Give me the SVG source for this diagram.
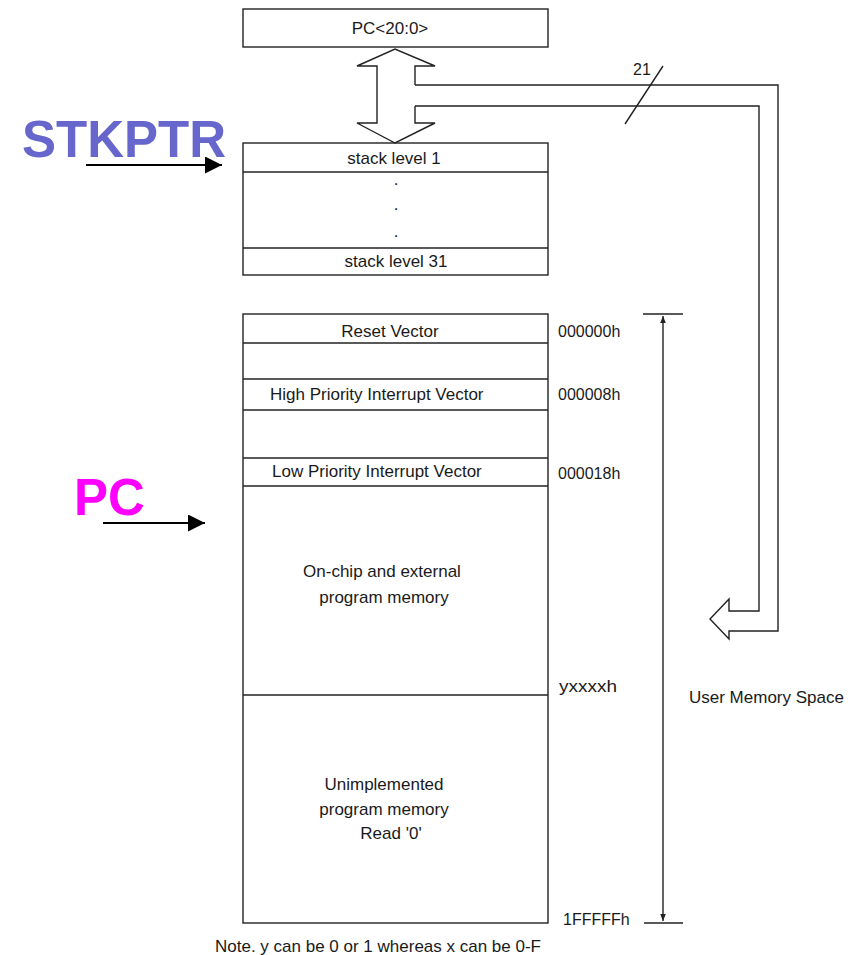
<svg xmlns="http://www.w3.org/2000/svg" width="850" height="955" viewBox="0 0 850 955">
<defs>
<style>
.box{fill:#fff;stroke:#222;stroke-width:1.4}
.ln{fill:none;stroke:#222;stroke-width:1.4}
.t{font-family:"Liberation Sans",Arial,sans-serif;font-size:17px;fill:#1a1a1a}
.a{font-size:16px}
.c{text-anchor:middle}
.big{font-family:"Liberation Sans",Arial,sans-serif;font-weight:bold;font-size:51px}
</style>
<marker id="ah" viewBox="0 0 10 10" refX="10" refY="5" markerWidth="17" markerHeight="17" markerUnits="userSpaceOnUse" orient="auto">
<path d="M0,0 L10,5 L0,10 Z" fill="#000"/>
</marker>
<marker id="sa" viewBox="0 0 10 10" refX="10" refY="5" markerWidth="7" markerHeight="7" markerUnits="userSpaceOnUse" orient="auto">
<path d="M0,1 L10,5 L0,9 Z" fill="#222"/>
</marker>
</defs>
<rect width="850" height="955" fill="#fff"/>

<g id="pc-reg">
<rect class="box" x="243" y="9" width="305" height="38"/>
<text class="t c" x="390" y="34">PC&lt;20:0&gt;</text>
</g>

<g id="stack">
<rect class="box" x="243" y="143" width="305" height="132"/>
<line class="ln" x1="243" y1="172" x2="548" y2="172"/>
<line class="ln" x1="243" y1="248" x2="548" y2="248"/>
<text class="t c" x="394" y="164">stack level 1</text>
<text class="t c" x="396" y="185">.</text>
<text class="t c" x="396" y="210">.</text>
<text class="t c" x="396" y="237">.</text>
<text class="t c" x="396" y="267">stack level 31</text>
</g>

<g id="memory">
<rect class="box" x="243" y="314" width="305" height="609"/>
<line class="ln" x1="243" y1="343" x2="548" y2="343"/>
<line class="ln" x1="243" y1="379" x2="548" y2="379"/>
<line class="ln" x1="243" y1="410" x2="548" y2="410"/>
<line class="ln" x1="243" y1="458" x2="548" y2="458"/>
<line class="ln" x1="243" y1="486" x2="548" y2="486"/>
<line class="ln" x1="243" y1="695" x2="548" y2="695"/>
<text class="t c" x="390" y="337">Reset Vector</text>
<text class="t" x="270" y="400">High Priority Interrupt Vector</text>
<text class="t" x="272" y="477">Low Priority Interrupt Vector</text>
<text class="t c" x="382" y="577">On-chip and external</text>
<text class="t c" x="384" y="603">program memory</text>
<text class="t c" x="384" y="790">Unimplemented</text>
<text class="t c" x="384" y="815">program memory</text>
<text class="t c" x="391" y="839">Read '0'</text>
</g>

<g id="addresses">
<text class="t a" x="558" y="337">000000h</text>
<text class="t a" x="558" y="400">000008h</text>
<text class="t a" x="558" y="479">000018h</text>
<text class="t a" x="559" y="692" textLength="58" lengthAdjust="spacingAndGlyphs">yxxxxh</text>
<text class="t a" x="563" y="925">1FFFFFh</text>
</g>

<g id="user-space">
<text class="t" x="689" y="703">User Memory Space</text>
</g>

<g id="note">
<text class="t" x="215" y="952">Note. y can be 0 or 1 whereas x can be 0-F</text>
</g>

<g id="stkptr-label">
<text class="big" x="22" y="157" fill="#6666cc">STKPTR</text>
</g>

<g id="pc-label">
<text class="big" x="74" y="515" fill="#ff00ff">PC</text>
</g>

<g id="connectors">
<path class="ln" d="M415,85 V66 H435 L395,49 L357,66 H377 V123 H357 L395,143 L435,123 H415 V106"/>
<path class="ln" d="M415,85 H778 V631 H729 V639 L710,619 L729,599 V611 H759 V106 H415"/>
<line class="ln" x1="625" y1="124" x2="663" y2="66"/>
<text class="t a" x="633" y="75">21</text>
<line class="ln" x1="643" y1="314" x2="683" y2="314"/>
<line class="ln" x1="644" y1="923" x2="683" y2="923"/>
<line class="ln" x1="663" y1="618" x2="663" y2="316" marker-end="url(#sa)"/>
<line class="ln" x1="663" y1="618" x2="663" y2="921" marker-end="url(#sa)"/>
<line x1="86" y1="165" x2="222" y2="165" stroke="#000" stroke-width="2" marker-end="url(#ah)"/>
<line x1="103" y1="523" x2="205" y2="523" stroke="#000" stroke-width="2" marker-end="url(#ah)"/>
</g>
</svg>
